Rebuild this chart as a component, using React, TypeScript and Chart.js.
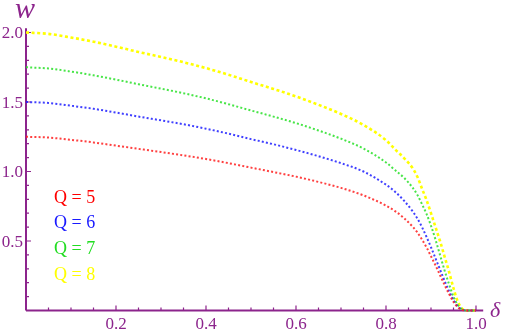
import React, { useEffect, useRef } from "react";
import { Chart, registerables } from "chart.js";

Chart.register(...registerables);

// delta values (x axis)
const DELTA = [0, 0.05, 0.1, 0.15, 0.2, 0.25, 0.3, 0.35, 0.4, 0.45, 0.5, 0.55, 0.6, 0.65, 0.7, 0.75, 0.8, 0.82, 0.84, 0.86, 0.87, 0.88, 0.89, 0.9, 0.91, 0.92, 0.93, 0.94, 0.95, 0.96, 0.97, 0.98, 0.99, 1.0];

// w values
const W_Q5 = [1.25, 1.244, 1.228, 1.209, 1.186, 1.163, 1.14, 1.116, 1.09, 1.06, 1.028, 0.996, 0.963, 0.925, 0.882, 0.828, 0.755, 0.715, 0.665, 0.6, 0.56, 0.51, 0.455, 0.39, 0.325, 0.255, 0.185, 0.12, 0.062, 0.022, 0.004, 0, 0, 0];
const W_Q6 = [1.5, 1.493, 1.473, 1.451, 1.424, 1.395, 1.368, 1.34, 1.308, 1.272, 1.233, 1.196, 1.155, 1.11, 1.06, 1.0, 0.905, 0.855, 0.79, 0.71, 0.66, 0.6, 0.53, 0.455, 0.375, 0.295, 0.215, 0.14, 0.075, 0.028, 0.005, 0, 0, 0];
const W_Q7 = [1.75, 1.741, 1.719, 1.692, 1.661, 1.628, 1.596, 1.563, 1.526, 1.484, 1.439, 1.395, 1.348, 1.295, 1.236, 1.165, 1.065, 1.01, 0.955, 0.88, 0.83, 0.765, 0.695, 0.61, 0.51, 0.4, 0.29, 0.19, 0.1, 0.038, 0.008, 0, 0, 0];
const W_Q8 = [2.0, 1.99, 1.964, 1.934, 1.898, 1.86, 1.824, 1.786, 1.744, 1.696, 1.644, 1.594, 1.54, 1.48, 1.414, 1.335, 1.225, 1.16, 1.097, 1.02, 0.96, 0.877, 0.795, 0.7, 0.6, 0.5, 0.39, 0.28, 0.16, 0.06, 0.012, 0, 0, 0];

const SERIES_LABELS = ["Q = 5", "Q = 6", "Q = 7", "Q = 8"];
const SERIES_COLORS = ["rgba(255,30,30,0.85)", "rgba(30,30,255,0.85)", "rgba(40,225,40,0.85)", "#ffff00"];
const LEGEND_COLORS = ["#ff0000", "#1a1aff", "#22dd22", "#ffff00"];

const X_MAJOR = [0.2, 0.4, 0.6, 0.8, 1.0];
const X_MAJOR_LABELS = ["0.2", "0.4", "0.6", "0.8", "1.0"];
const Y_MAJOR = [0.5, 1.0, 1.5, 2.0];
const Y_MAJOR_LABELS = ["0.5", "1.0", "1.5", "2.0"];

const AXIS_COLOR = "#8c248c";
const SERIF = "'Liberation Serif', 'Times New Roman', serif";

export default function App() {
  const ref = useRef<HTMLCanvasElement>(null);

  useEffect(() => {
    if (!ref.current) return;
    const seriesList = [W_Q5, W_Q6, W_Q7, W_Q8];
    const datasets = seriesList.map((s, i) => ({
      label: SERIES_LABELS[i],
      data: DELTA.map((d, j) => ({ x: d, y: s[j] })),
      borderColor: SERIES_COLORS[i],
      borderWidth: i === 3 ? 2.6 : 2,
      borderDash: i === 3 ? [3, 2.6] : [2, 2.2],
      borderCapStyle: "butt" as const,
      pointRadius: 0,
      fill: false,
      cubicInterpolationMode: "monotone" as const,
      clip: false as any,
    }));

    const axesPlugin = {
      id: "mathAxes",
      beforeDatasetsDraw(chart: any) {
        const ctx = chart.ctx as CanvasRenderingContext2D;
        const xs = chart.scales.x;
        const ys = chart.scales.y;
        const x0 = xs.getPixelForValue(0);
        const y0 = ys.getPixelForValue(0);
        ctx.save();
        ctx.strokeStyle = AXIS_COLOR;
        ctx.fillStyle = AXIS_COLOR;
        ctx.lineWidth = 2;
        ctx.beginPath();
        ctx.moveTo(x0, y0);
        ctx.lineTo(xs.getPixelForValue(1.016), y0);
        ctx.moveTo(x0, y0);
        ctx.lineTo(x0, ys.getPixelForValue(2.03));
        ctx.stroke();
        ctx.lineWidth = 1.2;
        ctx.beginPath();
        for (let k = 1; k <= 20; k++) {
          const px = xs.getPixelForValue(k * 0.05);
          const major = k % 4 === 0;
          ctx.moveTo(px, y0);
          ctx.lineTo(px, y0 - (major ? 5 : 3));
        }
        for (let k = 1; k <= 20; k++) {
          const py = ys.getPixelForValue(k * 0.1);
          const major = k % 5 === 0;
          ctx.moveTo(x0, py);
          ctx.lineTo(x0 + (major ? 5 : 3), py);
        }
        ctx.stroke();
        ctx.font = "17px " + SERIF;
        ctx.textAlign = "center";
        ctx.textBaseline = "alphabetic";
        X_MAJOR.forEach((v, i) => {
          ctx.fillText(X_MAJOR_LABELS[i], xs.getPixelForValue(v), 329);
        });
        ctx.textAlign = "right";
        Y_MAJOR.forEach((v, i) => {
          ctx.fillText(Y_MAJOR_LABELS[i], x0 - 3, ys.getPixelForValue(v) + 5.5);
        });
        ctx.font = "italic 30px " + SERIF;
        ctx.textAlign = "center";
        ctx.fillText("w", 25, 18);
        ctx.font = "italic 22px " + SERIF;
        ctx.fillText("δ", 495, 317);
        ctx.font = "18px " + SERIF;
        ctx.textAlign = "left";
        const baselines = [202.5, 228, 253.5, 280];
        SERIES_LABELS.forEach((t, i) => {
          ctx.fillStyle = LEGEND_COLORS[i];
          ctx.fillText(t, 54, baselines[i]);
        });
        ctx.restore();
      },
    };

    const chart = new Chart(ref.current, {
      type: "line",
      data: { datasets },
      options: {
        animation: false,
        responsive: false,
        maintainAspectRatio: false,
        layout: { padding: { left: 26, right: 29, top: 32.5, bottom: 20.5 } },
        plugins: { legend: { display: false }, tooltip: { enabled: false } },
        scales: {
          x: { type: "linear", min: 0, max: 1, display: false },
          y: { type: "linear", min: 0, max: 2, display: false },
        },
      },
      plugins: [axesPlugin],
    });
    return () => chart.destroy();
  }, []);

  return (
    <div style={{ position: "fixed", left: 0, top: 0, width: 505, height: 331, background: "#fff" }}>
      <canvas ref={ref} width={505} height={331} style={{ width: 505, height: 331, display: "block" }} />
    </div>
  );
}
